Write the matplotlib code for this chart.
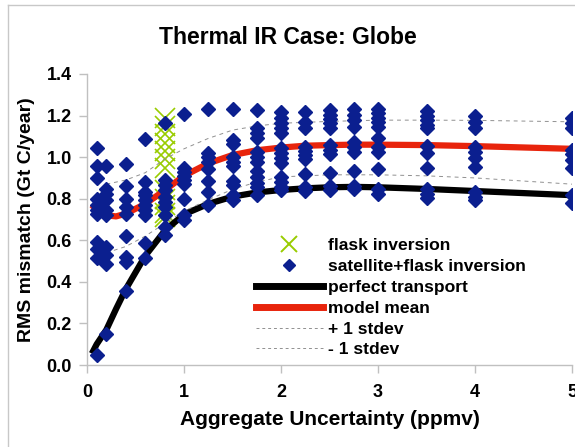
import matplotlib
matplotlib.use("Agg")
import matplotlib.pyplot as plt
from matplotlib.lines import Line2D

plt.rcParams['font.family'] = ['Liberation Sans', 'DejaVu Sans']
plt.rcParams['font.weight'] = 'bold'

# satellite+flask inversion results, one list per uncertainty level (ppmv)
sat_levels = [0.1, 0.2, 0.4, 0.6, 0.8, 1.0, 1.25, 1.5, 1.75, 2.0, 2.25, 2.5, 2.75, 3.0, 3.5, 4.0, 5.0]
sat_rms = [
    [1.043, 0.955, 0.901, 0.80, 0.772, 0.745, 0.728, 0.592, 0.557, 0.517, 0.048],
    [0.955, 0.848, 0.824, 0.792, 0.744, 0.72, 0.568, 0.528, 0.488, 0.149],
    [0.968, 0.859, 0.80, 0.76, 0.728, 0.619, 0.52, 0.496, 0.356],
    [1.087, 0.881, 0.833, 0.817, 0.793, 0.769, 0.745, 0.721, 0.585, 0.513],
    [1.165, 0.889, 0.864, 0.84, 0.808, 0.784, 0.76, 0.72, 0.664, 0.625],
    [1.207, 0.95, 0.929, 0.91, 0.889, 0.87, 0.80, 0.721, 0.697],
    [1.231, 1.022, 1.002, 0.978, 0.942, 0.885, 0.833, 0.769],
    [1.234, 1.082, 1.061, 1.002, 0.978, 0.958, 0.885, 0.865, 0.817, 0.793],
    [1.226, 1.138, 1.114, 1.09, 1.026, 1.002, 0.978, 0.933, 0.905, 0.878, 0.857, 0.817],
    [1.218, 1.186, 1.162, 1.138, 1.114, 1.042, 1.018, 0.997, 0.97, 0.905, 0.881, 0.857, 0.841],
    [1.215, 1.167, 1.138, 1.05, 1.029, 1.01, 0.989, 0.917, 0.857, 0.838],
    [1.226, 1.202, 1.182, 1.162, 1.138, 1.058, 1.034, 1.013, 0.925, 0.862, 0.841],
    [1.231, 1.205, 1.178, 1.146, 1.074, 1.05, 1.026, 0.933, 0.862, 0.846],
    [1.234, 1.21, 1.186, 1.167, 1.146, 1.09, 1.05, 1.026, 0.942, 0.849, 0.825],
    [1.221, 1.199, 1.178, 1.157, 1.138, 1.055, 1.018, 0.949, 0.846, 0.822, 0.805],
    [1.199, 1.17, 1.138, 1.05, 1.023, 0.997, 0.954, 0.833, 0.81, 0.794],
    [1.186, 1.162, 1.141, 1.034, 1.013, 0.986, 0.946, 0.817, 0.777],
]

# flask-only inversions, all at 0.8 ppmv
flask_level = 0.8
flask_rms = [1.19, 1.15, 1.11, 1.07, 1.03, 0.99, 0.95, 0.84, 0.80, 0.77, 0.73, 0.71]

# fitted curves
curve_x = [0.05, 0.1, 0.2, 0.3, 0.4, 0.6, 0.8, 1.0, 1.25, 1.5, 1.75, 2.0, 2.25, 2.5, 2.75, 3.0, 3.5, 4.0, 5.0]
perfect = [0.055, 0.10, 0.17, 0.27, 0.365, 0.525, 0.645, 0.725, 0.775, 0.81, 0.83, 0.842, 0.85, 0.855, 0.857, 0.855, 0.847, 0.837, 0.817]
mean = [0.77, 0.745, 0.72, 0.715, 0.728, 0.775, 0.84, 0.91, 0.97, 1.01, 1.033, 1.046, 1.055, 1.058, 1.06, 1.06, 1.058, 1.053, 1.04]

sd_x = [0.2, 0.4, 0.6, 0.8, 1.0, 1.25, 1.5, 1.75, 2.0, 2.5, 3.0, 3.5, 4.0, 5.0]
sd_upper = [0.87, 0.89, 0.925, 0.99, 1.04, 1.09, 1.13, 1.15, 1.163, 1.172, 1.178, 1.178, 1.177, 1.17]
sd_lower = [0.54, 0.57, 0.62, 0.68, 0.74, 0.795, 0.845, 0.88, 0.905, 0.915, 0.915, 0.91, 0.90, 0.87]

navy = '#0b1f8f'
green = '#99cc00'
red = '#e8240c'
grid = '#c0c0c0'

fig = plt.figure(figsize=(5.75, 4.47), dpi=100)
ax = fig.add_axes([87 / 575, 1 - 365 / 447, 485 / 575, 291 / 447])

ax.plot([flask_level] * len(flask_rms), flask_rms, linestyle='none', marker='x',
        markersize=14, markeredgewidth=1.2, color=green, zorder=2)

ax.plot(curve_x, perfect, color='black', lw=4.5, solid_capstyle='butt', zorder=3)
ax.plot(curve_x, mean, color=red, lw=4.5, solid_capstyle='butt', zorder=3)
ax.plot(sd_x, sd_upper, color='#909090', lw=0.7, dashes=(4, 4), zorder=3)
ax.plot(sd_x, sd_lower, color='#909090', lw=0.7, dashes=(4, 4), zorder=3)

for lev, vals in zip(sat_levels, sat_rms):
    ax.plot([lev] * len(vals), vals, linestyle='none', marker='D', markersize=7,
            color=navy, zorder=4)

ax.set_xlim(0, 5)
ax.set_ylim(0, 1.4)
ax.set_xticks([0, 1, 2, 3, 4, 5])
ax.set_yticks([0.0, 0.2, 0.4, 0.6, 0.8, 1.0, 1.2, 1.4])
ax.set_yticklabels(['%.1f' % v for v in ax.get_yticks()])
ax.tick_params(axis='both', direction='out', length=6, width=1, color=grid,
               labelsize=13, pad=5)
ax.tick_params(axis='x', pad=8)
for side in ['top', 'right']:
    ax.spines[side].set_visible(False)
for side in ['left', 'bottom']:
    ax.spines[side].set_color(grid)
    ax.spines[side].set_linewidth(1)

ax.set_xlabel('Aggregate Uncertainty (ppmv)', fontsize=15, fontweight='bold', labelpad=6)
ax.set_ylabel('RMS mismatch (Gt C/year)', fontsize=14, fontweight='bold', labelpad=8)
fig.text(0.5, 1 - 38 / 447, 'Thermal IR Case: Globe', ha='center', va='center',
         fontsize=16.5, fontweight='bold')

handles = [
    Line2D([], [], linestyle='none', marker='x', markersize=12, markeredgewidth=1.4, color=green),
    Line2D([], [], linestyle='none', marker='D', markersize=6, color=navy),
    Line2D([], [], color='black', lw=5),
    Line2D([], [], color=red, lw=5),
    Line2D([], [], color='#909090', lw=0.7, dashes=(3, 3)),
    Line2D([], [], color='#909090', lw=0.7, dashes=(3, 3)),
]
labels = ['flask inversion', 'satellite+flask inversion', 'perfect transport',
          'model mean', '+ 1 stdev', '- 1 stdev']
fig.legend(handles, labels, loc='upper left', bbox_to_anchor=(256 / 575, 1 - 238 / 447),
           frameon=False, fontsize=12.6, handlelength=3.8, handletextpad=0.3,
           labelspacing=0.32, borderpad=0, borderaxespad=0)

# light frame around the chart area
fig.add_artist(Line2D([8 / 575, 8 / 575], [0, 1 - 5 / 447], color='#c8c8c8', lw=1))
fig.add_artist(Line2D([8 / 575, 1], [1 - 5 / 447, 1 - 5 / 447], color='#c8c8c8', lw=1))

fig.savefig('out.png', dpi=100, facecolor='white')
